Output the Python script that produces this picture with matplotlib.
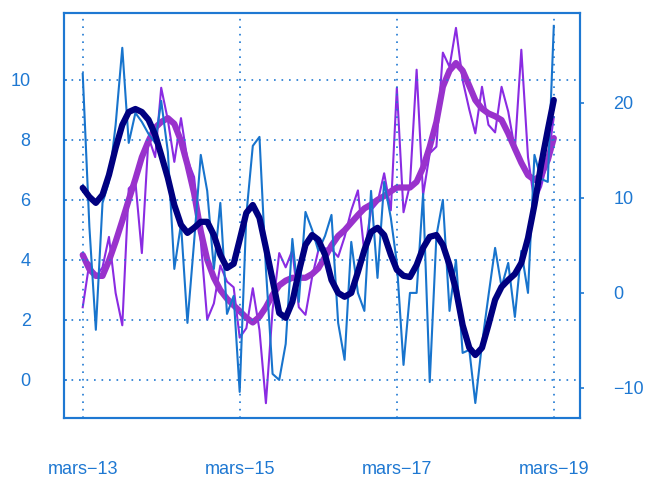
import matplotlib
matplotlib.use("Agg")
import matplotlib.pyplot as plt
import numpy as np
import pandas as pd

plt.rcParams['font.family'] = ['Liberation Sans', 'DejaVu Sans']

# monthly series, March 2013 to March 2019
months = pd.date_range('2013-03-01', periods=73, freq='MS')

# left axis: raw series and its smoothed curve
serie_a = [10.2, 5.1, 1.67, 5.9, 6.6, 8.5, 11.07, 7.9, 8.9, 8.6, 8.2, 7.9, 9.3, 7.6, 3.7, 5.2,
           1.9, 4.6, 7.5, 6.3, 3.7, 5.9, 2.2, 2.8, -0.4, 5.5, 7.8, 8.1, 3.7, 0.2, 0.0, 1.2,
           4.7, 2.6, 5.6, 5.0, 4.3, 4.8, 5.5, 1.9, 0.67, 4.6, 2.9, 2.3, 6.3, 3.4, 6.6, 5.4,
           3.9, 0.5, 2.9, 2.9, 6.2, -0.07, 4.8, 6.0, 2.3, 4.0, 0.9, 1.0, -0.77, 1.2, 2.8, 4.4,
           3.1, 3.9, 2.1, 4.3, 2.9, 7.5, 6.7, 6.6, 11.8]
lisse_a = [6.40, 6.10, 5.90, 6.17, 6.83, 7.73, 8.50, 8.93, 9.03, 8.93, 8.67, 8.17, 7.50, 6.73,
           5.83, 5.17, 4.90, 5.07, 5.27, 5.27, 4.83, 4.17, 3.73, 3.87, 4.67, 5.57, 5.83, 5.40,
           4.40, 3.33, 2.23, 2.07, 2.60, 3.60, 4.50, 4.83, 4.67, 4.17, 3.33, 2.90, 2.77, 2.90,
           3.60, 4.33, 4.93, 5.07, 4.83, 4.17, 3.67, 3.47, 3.43, 3.83, 4.40, 4.77, 4.83, 4.50,
           3.83, 3.00, 1.83, 1.07, 0.83, 1.07, 1.83, 2.67, 3.10, 3.33, 3.53, 3.90, 4.73, 5.83,
           7.17, 8.33, 9.33]

# right axis: raw series and its smoothed curve
serie_b = [-1.5, 3.2, 1.7, 2.7, 5.9, 0.0, -3.4, 11.0, 11.7, 4.2, 16.4, 14.3, 21.6, 18.2, 13.8,
           18.4, 14.0, 12.2, 5.5, -2.8, -1.1, 2.9, 1.2, 0.6, -4.7, -3.7, 0.5, -3.9, -11.6, -1.8,
           4.2, 2.7, 4.5, -1.5, -2.3, 1.7, 4.5, 4.7, 4.6, 3.8, 5.9, 8.7, 10.8, 4.2, 8.7, 9.5,
           12.6, 8.7, 21.6, 8.5, 11.4, 23.5, 10.3, 14.7, 15.4, 25.3, 23.8, 27.9, 22.4, 19.3,
           16.8, 21.7, 17.7, 16.9, 21.7, 19.1, 15.1, 25.6, 14.3, 9.5, 11.2, 14.0, 18.5]
lisse_b = [4.0, 2.5, 1.8, 1.8, 3.4, 5.4, 7.6, 9.8, 12.0, 14.3, 16.0, 17.4, 18.0, 18.4, 17.8,
           16.0, 13.5, 10.5, 6.5, 3.5, 1.6, 0.3, -0.6, -1.3, -1.9, -2.6, -3.1, -2.5, -1.5, -0.2,
           0.8, 1.3, 1.6, 1.6, 1.6, 2.0, 2.6, 3.8, 5.0, 6.0, 6.6, 7.4, 8.2, 8.9, 9.3, 9.8, 10.2,
           10.7, 11.1, 11.1, 11.1, 11.7, 13.2, 15.4, 18.0, 21.7, 23.4, 24.2, 23.4, 21.8, 20.3,
           19.4, 18.9, 18.6, 18.2, 16.8, 15.2, 13.7, 12.4, 11.9, 12.4, 14.0, 16.3]

tick_dates = pd.to_datetime(['2013-03-01', '2015-03-01', '2017-03-01', '2019-03-01'])
tick_labels = ['mars\u221213', 'mars\u221215', 'mars\u221217', 'mars\u221219']
left_ticks = [0, 2, 4, 6, 8, 10]
right_ticks = [-10, 0, 10, 20]

bleu = '#1E78D2'

fig = plt.figure(figsize=(6.48, 4.79), dpi=100)
ax = fig.add_axes([0.0988, 0.1273, 0.7963, 0.8456])
ax2 = ax.twinx()

# right-axis series underneath
ax2.plot(months, serie_b, color='#8A2BE2', linewidth=1.5)
ax2.plot(months, lisse_b, color='#9932CC', linewidth=4.5, solid_capstyle='round')
ax2.set_ylim(-13.16, 29.47)
ax2.set_yticks(right_ticks)
ax2.tick_params(axis='y', direction='out', length=3, width=1.2, color=bleu,
                labelcolor=bleu, labelsize=13, pad=21)

# left-axis series on top
ax.set_zorder(ax2.get_zorder() + 1)
ax.patch.set_visible(False)
ax.plot(months, serie_a, color='#1874CD', linewidth=1.5)
ax.plot(months, lisse_a, color='#000080', linewidth=4.5, solid_capstyle='round')
ax.set_ylim(-1.27, 12.23)
ax.set_yticks(left_ticks)
ax.tick_params(axis='y', direction='in', length=2, width=1.2, color=bleu,
               labelcolor=bleu, labelsize=13, pad=24)

ax.set_xlim(pd.Timestamp('2012-12-04'), pd.Timestamp('2019-07-01'))
ax.set_xticks(tick_dates)
ax.set_xticklabels(tick_labels)
ax.tick_params(axis='x', length=0, labelcolor=bleu, labelsize=13, pad=31)

ax.grid(True, color=bleu, linestyle=(0, (1, 3.5)), linewidth=1.2)

for a in (ax, ax2):
    for s in a.spines.values():
        s.set_color(bleu)
        s.set_linewidth(1.5)

fig.savefig('out.png', dpi=100)
